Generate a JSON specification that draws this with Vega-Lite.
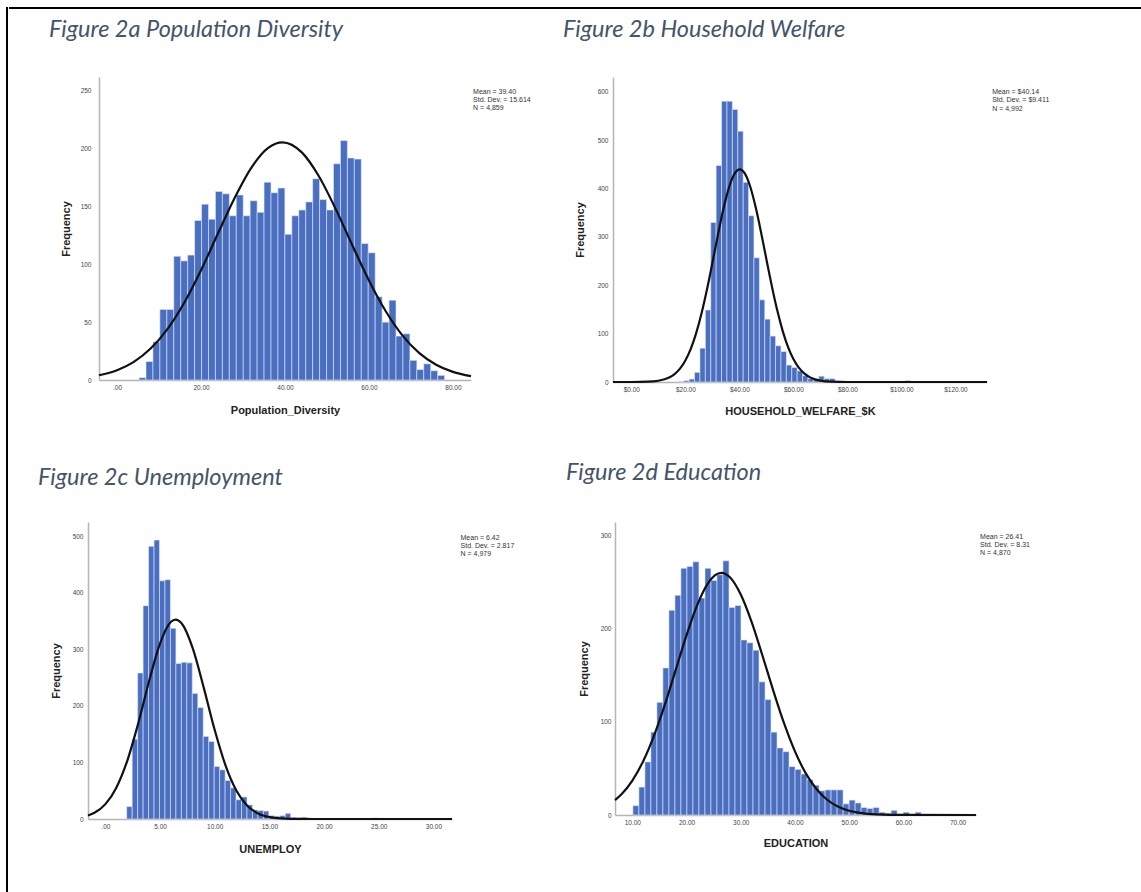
{
  "$schema": "https://vega.github.io/schema/vega-lite/v6.json",
  "padding": {"left": 5, "top": 6, "right": 0, "bottom": 0},
  "background": "white",
  "config": {
    "view": {"stroke": null},
    "axis": {"grid": false, "ticks": false, "tickSize": 0, "domainColor": "#b5b5b5", "domainWidth": 1.5, "labelFont": "Liberation Sans", "labelFontSize": 6.5, "labelColor": "#444444", "titleFont": "Liberation Sans", "titleFontSize": 11, "titleFontWeight": "bold", "titleColor": "#222222", "labelOverlap": false, "labelFlush": false},
    "title": {"font": "Lato", "fontStyle": "italic", "fontWeight": "normal", "fontSize": 23.5, "color": "#44546a", "anchor": "start", "frame": "group", "dx": -50, "offset": 36}
  },
  "datasets": {
    "a_bars": [
      {"lo":5.24,"hi":6.89,"n":2},{"lo":6.89,"hi":8.55,"n":16},{"lo":8.55,"hi":10.20,"n":33},{"lo":10.20,"hi":11.86,"n":61},{"lo":11.86,"hi":13.51,"n":61},{"lo":13.51,"hi":15.16,"n":107},{"lo":15.16,"hi":16.82,"n":103},{"lo":16.82,"hi":18.47,"n":108},{"lo":18.47,"hi":20.13,"n":138},{"lo":20.13,"hi":21.78,"n":152},{"lo":21.78,"hi":23.43,"n":139},{"lo":23.43,"hi":25.09,"n":163},{"lo":25.09,"hi":26.74,"n":161},{"lo":26.74,"hi":28.40,"n":142},{"lo":28.40,"hi":30.05,"n":160},{"lo":30.05,"hi":31.70,"n":142},{"lo":31.70,"hi":33.36,"n":155},{"lo":33.36,"hi":35.01,"n":145},{"lo":35.01,"hi":36.67,"n":171},{"lo":36.67,"hi":38.32,"n":162},{"lo":38.32,"hi":39.97,"n":166},{"lo":39.97,"hi":41.63,"n":126},{"lo":41.63,"hi":43.28,"n":142},{"lo":43.28,"hi":44.94,"n":147},{"lo":44.94,"hi":46.59,"n":154},{"lo":46.59,"hi":48.24,"n":174},{"lo":48.24,"hi":49.90,"n":156},{"lo":49.90,"hi":51.55,"n":147},{"lo":51.55,"hi":53.21,"n":187},{"lo":53.21,"hi":54.86,"n":207},{"lo":54.86,"hi":56.51,"n":192},{"lo":56.51,"hi":58.17,"n":191},{"lo":58.17,"hi":59.82,"n":118},{"lo":59.82,"hi":61.48,"n":110},{"lo":61.48,"hi":63.13,"n":72},{"lo":63.13,"hi":64.78,"n":50},{"lo":64.78,"hi":66.44,"n":69},{"lo":66.44,"hi":68.09,"n":38},{"lo":68.09,"hi":69.75,"n":40},{"lo":69.75,"hi":71.40,"n":17},{"lo":71.40,"hi":73.05,"n":9},{"lo":73.05,"hi":74.71,"n":14},{"lo":74.71,"hi":76.36,"n":8},{"lo":76.36,"hi":78.02,"n":4}
    ],
    "a_curve": [
      {"x":-4.3,"y":4.09},{"x":0,"y":8.51},{"x":4,"y":15.73},{"x":8,"y":27.2},{"x":12,"y":44.07},{"x":16,"y":66.85},{"x":20,"y":94.98},{"x":24,"y":126.4},{"x":28,"y":157.4},{"x":32,"y":183.7},{"x":36,"y":200.7},{"x":39.4,"y":205.5},{"x":44,"y":196.8},{"x":48,"y":176.6},{"x":52,"y":148.4},{"x":56,"y":116.8},{"x":60,"y":86.07},{"x":64,"y":59.41},{"x":68,"y":38.39},{"x":72,"y":23.24},{"x":76,"y":13.17},{"x":80,"y":6.99},{"x":84.3,"y":3.29}
    ],
    "b_bars": [
      {"lo":17.4,"hi":19.4,"n":1},{"lo":19.4,"hi":21.4,"n":3},{"lo":21.4,"hi":23.4,"n":6},{"lo":23.4,"hi":25.4,"n":20},{"lo":25.4,"hi":27.4,"n":70},{"lo":27.4,"hi":29.4,"n":149},{"lo":29.4,"hi":31.4,"n":330},{"lo":31.4,"hi":33.4,"n":448},{"lo":33.4,"hi":35.4,"n":581},{"lo":35.4,"hi":37.4,"n":581},{"lo":37.4,"hi":39.4,"n":564},{"lo":39.4,"hi":41.4,"n":519},{"lo":41.4,"hi":43.4,"n":413},{"lo":43.4,"hi":45.4,"n":344},{"lo":45.4,"hi":47.4,"n":257},{"lo":47.4,"hi":49.4,"n":170},{"lo":49.4,"hi":51.4,"n":130},{"lo":51.4,"hi":53.4,"n":95},{"lo":53.4,"hi":55.4,"n":75},{"lo":55.4,"hi":57.4,"n":63},{"lo":57.4,"hi":59.4,"n":35},{"lo":59.4,"hi":61.4,"n":30},{"lo":61.4,"hi":63.4,"n":23},{"lo":63.4,"hi":65.4,"n":13},{"lo":65.4,"hi":67.4,"n":7},{"lo":67.4,"hi":69.4,"n":5},{"lo":69.4,"hi":71.4,"n":12},{"lo":71.4,"hi":73.4,"n":7},{"lo":73.4,"hi":75.4,"n":7},{"lo":75.4,"hi":77.4,"n":2},{"lo":77.4,"hi":79.4,"n":2},{"lo":79.4,"hi":81.4,"n":1},{"lo":81.4,"hi":83.4,"n":1},{"lo":101.4,"hi":103.4,"n":3}
    ],
    "b_curve": [
      {"x":-6.8,"y":0},{"x":0,"y":0.05},{"x":6,"y":0.6},{"x":10,"y":2.61},{"x":14,"y":9.29},{"x":16,"y":16.4},{"x":18,"y":27.6},{"x":20,"y":44.6},{"x":22,"y":68.6},{"x":24,"y":101.1},{"x":26,"y":142.3},{"x":28,"y":191.4},{"x":30,"y":246.2},{"x":32,"y":302.7},{"x":34,"y":355.6},{"x":36,"y":399.4},{"x":38,"y":428.8},{"x":40.14,"y":440},{"x":42,"y":431.5},{"x":44,"y":404.5},{"x":46,"y":362.4},{"x":48,"y":310.5},{"x":50,"y":254.1},{"x":52,"y":198.9},{"x":54,"y":148.8},{"x":56,"y":106.4},{"x":58,"y":72.6},{"x":60,"y":47.5},{"x":62,"y":29.6},{"x":64,"y":17.7},{"x":66,"y":10.08},{"x":68,"y":5.5},{"x":70,"y":2.87},{"x":74,"y":0.68},{"x":80,"y":0.05},{"x":131.7,"y":0}
    ],
    "c_bars": [
      {"lo":1.95,"hi":2.45,"n":22},{"lo":2.45,"hi":2.95,"n":141},{"lo":2.95,"hi":3.45,"n":258},{"lo":3.45,"hi":3.95,"n":377},{"lo":3.95,"hi":4.45,"n":482},{"lo":4.45,"hi":4.95,"n":493},{"lo":4.95,"hi":5.45,"n":421},{"lo":5.45,"hi":5.95,"n":423},{"lo":5.95,"hi":6.45,"n":337},{"lo":6.45,"hi":6.95,"n":275},{"lo":6.95,"hi":7.45,"n":277},{"lo":7.45,"hi":7.95,"n":276},{"lo":7.95,"hi":8.45,"n":222},{"lo":8.45,"hi":8.95,"n":197},{"lo":8.95,"hi":9.45,"n":146},{"lo":9.45,"hi":9.95,"n":137},{"lo":9.95,"hi":10.45,"n":93},{"lo":10.45,"hi":10.95,"n":87},{"lo":10.95,"hi":11.45,"n":68},{"lo":11.45,"hi":11.95,"n":55},{"lo":11.95,"hi":12.45,"n":34},{"lo":12.45,"hi":12.95,"n":39},{"lo":12.95,"hi":13.45,"n":25},{"lo":13.45,"hi":13.95,"n":16},{"lo":13.95,"hi":14.45,"n":15},{"lo":14.45,"hi":14.95,"n":14},{"lo":14.95,"hi":15.45,"n":6},{"lo":15.45,"hi":15.95,"n":5},{"lo":15.95,"hi":16.45,"n":6},{"lo":16.45,"hi":16.95,"n":10},{"lo":16.95,"hi":17.45,"n":3},{"lo":17.45,"hi":17.95,"n":2},{"lo":17.95,"hi":18.45,"n":3},{"lo":18.45,"hi":18.95,"n":1},{"lo":24.45,"hi":24.95,"n":2}
    ],
    "c_curve": [
      {"x":-1.59,"y":6.19},{"x":-1,"y":10.98},{"x":0,"y":26.26},{"x":1,"y":55.4},{"x":2,"y":102.9},{"x":3,"y":168.8},{"x":4,"y":243.8},{"x":5,"y":310.5},{"x":6,"y":348.7},{"x":6.42,"y":352.6},{"x":7,"y":345.2},{"x":8,"y":301.3},{"x":9,"y":231.8},{"x":10,"y":157.2},{"x":11,"y":94.0},{"x":12,"y":49.6},{"x":13,"y":23.0},{"x":14,"y":9.44},{"x":15,"y":3.41},{"x":16,"y":1.09},{"x":18,"y":0.07},{"x":20,"y":0},{"x":31.7,"y":0}
    ],
    "d_bars": [
      {"lo":10.10,"hi":11.21,"n":10},{"lo":11.21,"hi":12.32,"n":30},{"lo":12.32,"hi":13.42,"n":57},{"lo":13.42,"hi":14.53,"n":89},{"lo":14.53,"hi":15.64,"n":121},{"lo":15.64,"hi":16.75,"n":158},{"lo":16.75,"hi":17.86,"n":220},{"lo":17.86,"hi":18.96,"n":236},{"lo":18.96,"hi":20.07,"n":265},{"lo":20.07,"hi":21.18,"n":267},{"lo":21.18,"hi":22.29,"n":272},{"lo":22.29,"hi":23.40,"n":233},{"lo":23.40,"hi":24.50,"n":265},{"lo":24.50,"hi":25.61,"n":252},{"lo":25.61,"hi":26.72,"n":258},{"lo":26.72,"hi":27.83,"n":273},{"lo":27.83,"hi":28.94,"n":223},{"lo":28.94,"hi":30.04,"n":225},{"lo":30.04,"hi":31.15,"n":188},{"lo":31.15,"hi":32.26,"n":185},{"lo":32.26,"hi":33.37,"n":177},{"lo":33.37,"hi":34.48,"n":143},{"lo":34.48,"hi":35.58,"n":124},{"lo":35.58,"hi":36.69,"n":89},{"lo":36.69,"hi":37.80,"n":72},{"lo":37.80,"hi":38.91,"n":68},{"lo":38.91,"hi":40.02,"n":52},{"lo":40.02,"hi":41.12,"n":49},{"lo":41.12,"hi":42.23,"n":44},{"lo":42.23,"hi":43.34,"n":38},{"lo":43.34,"hi":44.45,"n":32},{"lo":44.45,"hi":45.56,"n":26},{"lo":45.56,"hi":46.66,"n":27},{"lo":46.66,"hi":47.77,"n":27},{"lo":47.77,"hi":48.88,"n":27},{"lo":48.88,"hi":49.99,"n":12},{"lo":49.99,"hi":51.10,"n":16},{"lo":51.10,"hi":52.20,"n":13},{"lo":52.20,"hi":53.31,"n":8},{"lo":53.31,"hi":54.42,"n":7},{"lo":54.42,"hi":55.53,"n":8},{"lo":55.53,"hi":56.64,"n":3},{"lo":56.64,"hi":57.74,"n":2},{"lo":57.74,"hi":58.85,"n":5},{"lo":58.85,"hi":59.96,"n":1},{"lo":59.96,"hi":61.07,"n":3},{"lo":61.07,"hi":62.18,"n":1},{"lo":62.18,"hi":63.28,"n":3}
    ],
    "d_curve": [
      {"x":6.8,"y":16.07},{"x":8,"y":22.3},{"x":10,"y":37.0},{"x":12,"y":57.8},{"x":14,"y":85.3},{"x":16,"y":118.6},{"x":18,"y":155.8},{"x":20,"y":193.1},{"x":22,"y":225.9},{"x":24,"y":249.3},{"x":26.41,"y":260},{"x":28,"y":255.3},{"x":30,"y":236.8},{"x":32,"y":207.4},{"x":34,"y":171.3},{"x":36,"y":133.6},{"x":38,"y":98.3},{"x":40,"y":68.3},{"x":42,"y":44.7},{"x":44,"y":27.7},{"x":46,"y":16.1},{"x":48,"y":8.9},{"x":50,"y":4.6},{"x":52,"y":2.3},{"x":55,"y":0.7},{"x":60,"y":0.06},{"x":73.4,"y":0}
    ]
  },
  "spacing": 0,
  "hconcat": [
    {"width": 2, "height": 886, "view": {"fill": "black", "stroke": null}, "data": {"values": [{}]}, "mark": {"type": "rule", "opacity": 0}, "encoding": {}},
    {"spacing": 0, "vconcat": [
      {"width": 1134, "height": 2, "view": {"fill": "black", "stroke": null}, "data": {"values": [{}]}, "mark": {"type": "rule", "opacity": 0}, "encoding": {}},
      {"width": 1, "height": 6.5, "view": {"fill": "transparent", "stroke": null}, "data": {"values": [{}]}, "mark": {"type": "rule", "opacity": 0}, "encoding": {}},
      {"spacing": 0, "hconcat": [
        {"width": 40, "height": 1, "view": {"fill": "transparent", "stroke": null}, "data": {"values": [{}]}, "mark": {"type": "rule", "opacity": 0}, "encoding": {}},
        {"spacing": 32, "hconcat": [
          {"width": 372, "height": 303,
           "title": {"text": "Figure 2a Population Diversity", "offset": 36, "dx": -50},
           "layer": [
             {"data": {"name": "a_bars"}, "mark": {"type": "rect", "fill": "#4a6fc0", "stroke": "#e2e8f5", "strokeWidth": 0.6},
              "encoding": {
                "x": {"field": "lo", "type": "quantitative", "scale": {"domain": [-4.3, 84.3], "nice": false, "zero": false}, "axis": {"values": [0, 20, 40, 60, 80], "labelExpr": "datum.value == 0 ? '.00' : format(datum.value, '.2f')", "title": "Population_Diversity", "labelPadding": 4, "titlePadding": 14}},
                "x2": {"field": "hi"},
                "y": {"field": "n", "type": "quantitative", "scale": {"domain": [0, 262], "nice": false}, "axis": {"values": [0, 50, 100, 150, 200, 250], "title": "Frequency", "labelPadding": 8, "titleX": -28}},
                "y2": {"datum": 0}
              }},
             {"data": {"name": "a_curve"}, "mark": {"type": "line", "color": "#111111", "strokeWidth": 2.2, "interpolate": "monotone"},
              "encoding": {"x": {"field": "x", "type": "quantitative"}, "y": {"field": "y", "type": "quantitative"}}},
             {"data": {"values": [{}]}, "mark": {"type": "text", "text": ["Mean = 39.40", "Std. Dev. = 15.614", "N = 4,859"], "align": "left", "baseline": "top", "font": "Liberation Sans", "fontSize": 7, "lineHeight": 8.3, "color": "#333333"},
              "encoding": {"x": {"datum": 84.8}, "y": {"datum": 252.6}}}
           ]},
          {"width": 374, "height": 305,
           "title": {"text": "Figure 2b Household Welfare", "offset": 36, "dx": -50},
           "layer": [
             {"data": {"name": "b_bars"}, "mark": {"type": "rect", "fill": "#4a6fc0", "stroke": "#e2e8f5", "strokeWidth": 0.6},
              "encoding": {
                "x": {"field": "lo", "type": "quantitative", "scale": {"domain": [-6.8, 131.7], "nice": false, "zero": false}, "axis": {"values": [0, 20, 40, 60, 80, 100, 120], "format": "$.2f", "title": "HOUSEHOLD_WELFARE_$K", "labelPadding": 4, "titlePadding": 13}},
                "x2": {"field": "hi"},
                "y": {"field": "n", "type": "quantitative", "scale": {"domain": [0, 631], "nice": false}, "axis": {"values": [0, 100, 200, 300, 400, 500, 600], "title": "Frequency", "labelPadding": 5, "titleX": -28}},
                "y2": {"datum": 0}
              }},
             {"data": {"name": "b_curve"}, "mark": {"type": "line", "color": "#111111", "strokeWidth": 2.2, "interpolate": "monotone"},
              "encoding": {"x": {"field": "x", "type": "quantitative"}, "y": {"field": "y", "type": "quantitative"}}},
             {"data": {"values": [{}]}, "mark": {"type": "text", "text": ["Mean = $40.14", "Std. Dev. = $9.411", "N = 4,992"], "align": "left", "baseline": "top", "font": "Liberation Sans", "fontSize": 7, "lineHeight": 8.3, "color": "#333333"},
              "encoding": {"x": {"datum": 133.6}, "y": {"datum": 608}}}
           ]}
        ]}
      ]},
      {"width": 1, "height": 42.5, "view": {"fill": "transparent", "stroke": null}, "data": {"values": [{}]}, "mark": {"type": "rule", "opacity": 0}, "encoding": {}},
      {"spacing": 0, "hconcat": [
        {"width": 29, "height": 1, "view": {"fill": "transparent", "stroke": null}, "data": {"values": [{}]}, "mark": {"type": "rule", "opacity": 0}, "encoding": {}},
        {"spacing": 51, "hconcat": [
          {"width": 364, "height": 297,
           "title": {"text": "Figure 2c Unemployment", "offset": 32.5, "dx": -50},
           "layer": [
             {"data": {"name": "c_bars"}, "mark": {"type": "rect", "fill": "#4a6fc0", "stroke": "#e2e8f5", "strokeWidth": 0.6},
              "encoding": {
                "x": {"field": "lo", "type": "quantitative", "scale": {"domain": [-1.59, 31.7], "nice": false, "zero": false}, "axis": {"values": [0, 5, 10, 15, 20, 25, 30], "labelExpr": "datum.value == 0 ? '.00' : format(datum.value, '.2f')", "title": "UNEMPLOY", "labelPadding": 4, "titlePadding": 14}},
                "x2": {"field": "hi"},
                "y": {"field": "n", "type": "quantitative", "scale": {"domain": [0, 525], "nice": false}, "axis": {"values": [0, 100, 200, 300, 400, 500], "title": "Frequency", "labelPadding": 5, "titleX": -27}},
                "y2": {"datum": 0}
              }},
             {"data": {"name": "c_curve"}, "mark": {"type": "line", "color": "#111111", "strokeWidth": 2.2, "interpolate": "monotone"},
              "encoding": {"x": {"field": "x", "type": "quantitative"}, "y": {"field": "y", "type": "quantitative"}}},
             {"data": {"values": [{}]}, "mark": {"type": "text", "text": ["Mean = 6.42", "Std. Dev. = 2.817", "N = 4,979"], "align": "left", "baseline": "top", "font": "Liberation Sans", "fontSize": 7, "lineHeight": 8.3, "color": "#333333"},
              "encoding": {"x": {"datum": 32.48}, "y": {"datum": 504.4}}}
           ]},
          {"width": 361, "height": 293,
           "title": {"text": "Figure 2d Education", "offset": 37.5, "dx": -49},
           "layer": [
             {"data": {"name": "d_bars"}, "mark": {"type": "rect", "fill": "#4a6fc0", "stroke": "#e2e8f5", "strokeWidth": 0.6},
              "encoding": {
                "x": {"field": "lo", "type": "quantitative", "scale": {"domain": [6.8, 73.4], "nice": false, "zero": false}, "axis": {"values": [10, 20, 30, 40, 50, 60, 70], "format": ".2f", "title": "EDUCATION", "labelPadding": 4, "titlePadding": 12}},
                "x2": {"field": "hi"},
                "y": {"field": "n", "type": "quantitative", "scale": {"domain": [0, 314.7], "nice": false}, "axis": {"values": [0, 100, 200, 300], "title": "Frequency", "labelPadding": 4, "titleX": -26}},
                "y2": {"datum": 0}
              }},
             {"data": {"name": "d_curve"}, "mark": {"type": "line", "color": "#111111", "strokeWidth": 2.2, "interpolate": "monotone"},
              "encoding": {"x": {"field": "x", "type": "quantitative"}, "y": {"field": "y", "type": "quantitative"}}},
             {"data": {"values": [{}]}, "mark": {"type": "text", "text": ["Mean = 26.41", "Std. Dev. = 8.31", "N = 4,870"], "align": "left", "baseline": "top", "font": "Liberation Sans", "fontSize": 7, "lineHeight": 8.3, "color": "#333333"},
              "encoding": {"x": {"datum": 74.15}, "y": {"datum": 303.4}}}
           ]}
        ]}
      ]}
    ]}
  ]
}
